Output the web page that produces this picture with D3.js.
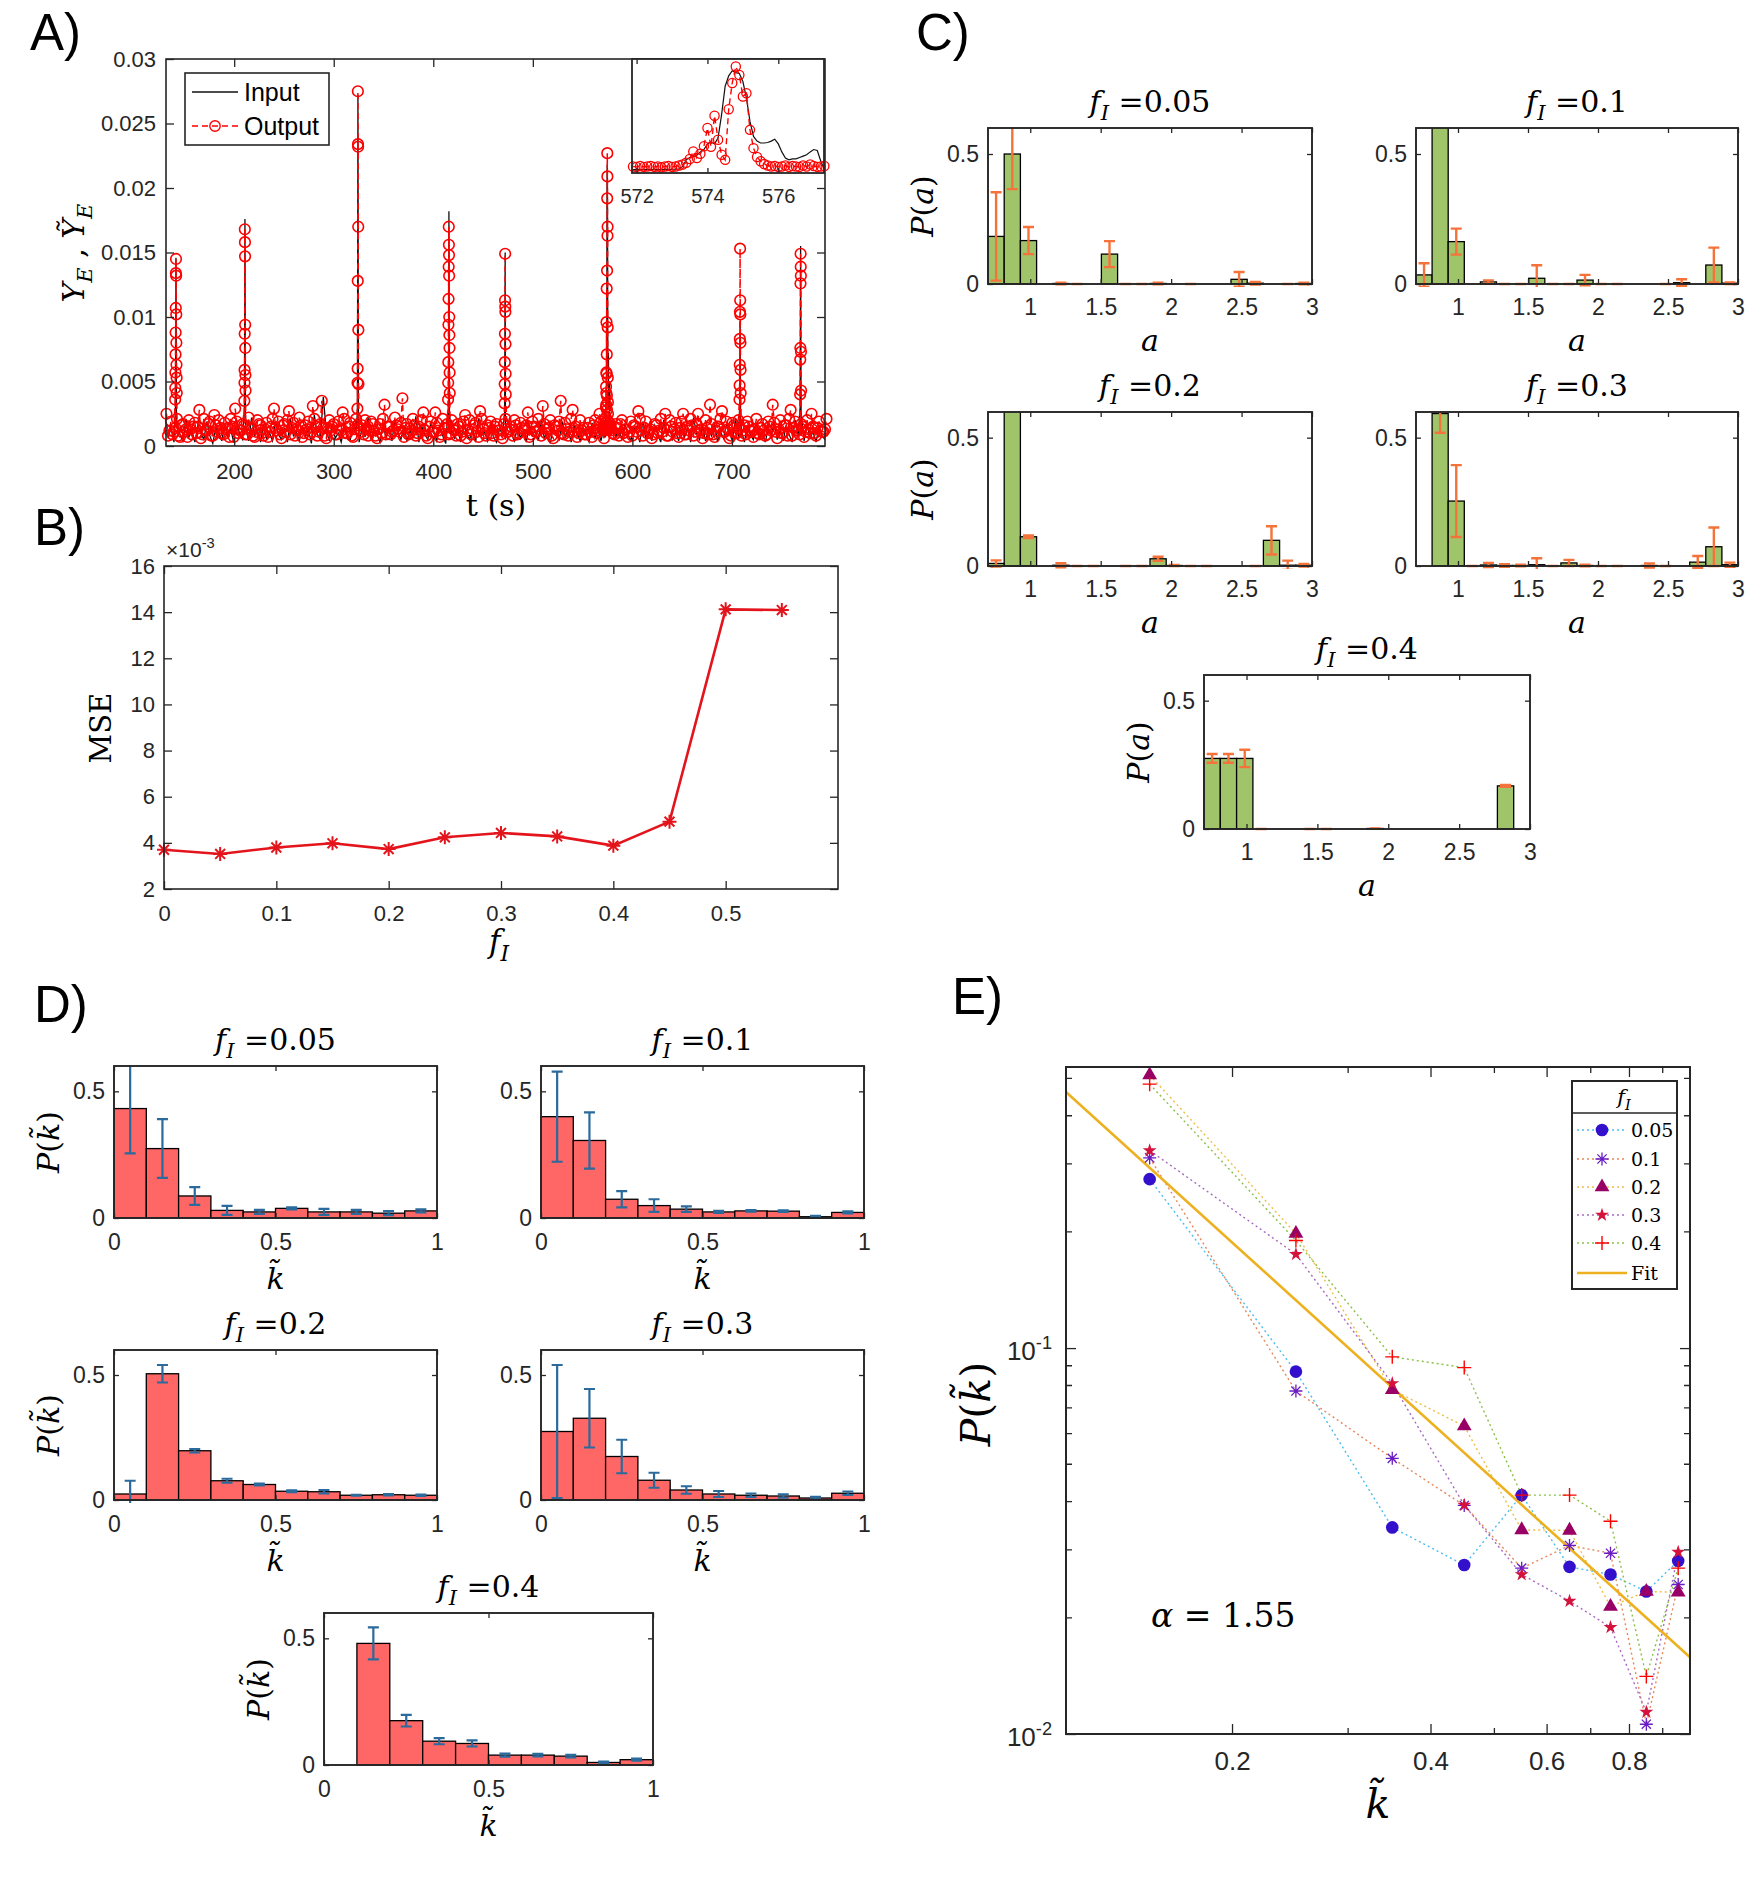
<!DOCTYPE html>
<html><head><meta charset="utf-8">
<script src="https://cdn.jsdelivr.net/npm/d3@7"></script>
<style>html,body{margin:0;padding:0;background:#fff;} svg{display:block;} text{white-space:pre;}</style>
</head><body>
<svg id="fig" width="1764" height="1882" xmlns="http://www.w3.org/2000/svg"></svg>
<script>
// ================= DATA =================
// ---- Panel A: time series (baseline samples in units of 1e-4) ----
const tStart = 132, tStep = 3;
const outBase = [25,12,9,14,8,16,11,7,13,15,10,28,9,12,17,8,24,11,14,9,
13,7,15,29,10,12,16,9,14,8,11,17,10,13,7,15,29,12,9,16,
11,27,14,8,12,16,10,13,9,31,15,11,35,8,14,12,17,9,13,26,
10,15,8,13,16,11,9,14,12,17,8,13,10,32,15,9,12,16,11,37,
14,9,12,16,10,13,26,8,15,11,26,12,9,14,17,10,13,8,15,11,
24,12,9,16,11,27,13,8,14,10,15,12,9,17,11,13,8,16,10,14,
12,26,9,15,11,13,31,10,14,8,16,12,35,9,13,11,28,15,10,12,
9,14,11,16,10,25,13,8,15,12,9,14,17,10,13,11,8,15,27,12,
14,10,13,9,16,12,11,25,8,15,13,10,14,25,9,12,16,11,25,13,
10,14,32,9,12,15,27,11,13,8,16,10,14,12,9,15,11,13,10,14,
12,9,15,32,11,13,10,16,8,28,14,12,9,15,11,13,25,10,14,12,
11,21];
// second set of output samples, half a step later
const outBase2 = [8,19,11,21,7,17,13,20,9,18,15,6,21,12,19,8,16,20,10,18,
14,21,7,19,12,17,9,22,13,7,20,16,8,18,11,21,14,19,6,17,
20,9,18,13,22,7,16,19,11,21,8,17,14,6,20,15,9,19,12,21,
10,18,7,21,13,16,20,8,19,12,6,17,21,9,15,11,22,13,18,7,
17,10,21,8,15,20,12,6,19,11,18,7,21,14,9,20,12,17,8,19,
6,20,13,18,7,21,10,16,19,8,17,12,6,21,11,15,20,9,18,13,
16,7,19,11,21,8,17,13,20,6,15,19,10,18,8,21,12,7,20,14,
9,18,7,20,12,19,6,15,21,10,17,8,20,13,7,19,16,11,21,8,
19,12,6,17,10,21,14,8,20,11,18,7,19,9,15,21,8,17,12,6,
20,9,17,7,15,21,11,19,6,18,10,20,8,16,19,12,7,21,9,17,
8,19,12,18,6,20,10,16,21,8,19,12,17,7,20,10,15,8,19,11,13];
const inBase = [6,14,3,18,9,4,21,7,12,3,16,10,5,19,8,2,14,11,4,17,
7,13,3,20,9,5,15,4,22,8,12,3,17,6,10,4,19,9,5,14,
3,21,8,11,4,16,7,13,2,24,9,5,38,12,4,17,6,10,3,15,
8,4,19,11,3,14,7,22,5,12,9,3,18,6,13,4,20,10,5,16,
4,12,7,23,3,15,9,5,18,11,4,14,8,2,19,10,6,13,3,17,
9,5,14,3,21,8,11,4,16,7,3,13,10,5,18,9,4,15,6,12,
3,17,8,12,4,20,6,11,2,15,9,5,19,7,13,3,16,10,4,14,
8,3,18,6,12,4,15,10,3,21,7,13,5,17,9,4,14,11,3,19,
6,12,4,16,9,3,20,8,13,5,11,4,17,7,14,3,22,9,5,15,
4,13,8,18,3,11,6,16,10,4,21,7,12,3,15,9,5,18,6,11,
3,14,7,19,5,12,4,16,9,3,20,8,13,4,17,6,11,3,15,8,5];
const spikeTimes = [141.5, 210.8, 324.3, 415.7, 472.2, 708.2, 769.0];
const spikeOut = [
 [0.0036,0.0045,0.0057,0.0071,0.0088,0.0107,0.0134,0.0145,0.0132,0.0102,0.0080,0.0063,0.0053,0.0041],
 [0.0035,0.0049,0.0059,0.0087,0.0168,0.0158,0.0147,0.0094,0.0076,0.0055,0.0043],
 [0.0029,0.0049,0.0060,0.0128,0.0275,0.0234,0.0232,0.0170,0.0090,0.0048],
 [0.0036,0.0049,0.0065,0.0094,0.0114,0.0139,0.0170,0.0156,0.0148,0.0132,0.0100,0.0086,0.0076,0.0057,0.0041],
 [0.0033,0.0048,0.0065,0.0087,0.0113,0.0149,0.0108,0.0104,0.0079,0.0056,0.0040],
 [0.0036,0.0047,0.0063,0.0083,0.0104,0.0153,0.0113,0.0102,0.0080,0.0059,0.0041],
 [0.0040,0.0067,0.0076,0.0126,0.0149,0.0139,0.0132,0.0073,0.0043]];
const spikeIn = [
 [0.0028,0.0146,0.0024],[0.0030,0.0176,0.0026],[0.0027,0.0272,0.0022],
 [0.0031,0.0182,0.0025],[0.0026,0.0150,0.0023],[0.0029,0.0097,0.0024],[0.0030,0.0155,0.0026]];
// inset window (every 0.1 s from 571.9 s)
const insetT0 = 571.9, insetDt = 0.1;
const insetOut = [0.0014,0.0013,0.0015,0.0013,0.0014,0.0015,0.0013,0.0014,0.0012,0.0014,0.0015,0.0013,0.0014,0.0016,
 0.0018,0.0022,0.0030,0.0046,0.0032,0.0041,0.0057,0.0096,0.0056,0.0122,0.0071,0.0039,0.0028,0.0136,0.0192,0.0227,0.0209,0.0163,0.0170,0.0092,0.0053,0.0034,0.0025,
 0.0019,0.0016,0.0014,0.0015,0.0013,0.0014,0.0016,0.0013,0.0015,0.0014,0.0013,0.0016,0.0014,0.0018,0.0015,0.0013,0.0014,0.0015];
const insetIn = [0.0007,0.0008,0.0007,0.0007,0.0008,0.0007,0.0008,0.0007,0.0007,0.0008,0.0007,0.0008,0.0008,0.0009,
 0.0014,0.0028,0.0033,0.0035,0.0038,0.0045,0.0050,0.0062,0.0066,0.0062,0.0075,0.0125,0.0185,0.0207,0.0218,0.0214,0.0212,0.0195,0.0160,0.0110,0.0078,0.0068,0.0064,
 0.0064,0.0065,0.0068,0.0072,0.0062,0.0045,0.0032,0.0028,0.0030,0.0030,0.0033,0.0036,0.0039,0.0045,0.0050,0.0048,0.0025,0.0008];
const tTicks = [200,300,400,500,600,700];
const yTicksA = [0,0.005,0.01,0.015,0.02,0.025,0.03];
const insetTicks = [572,574,576];

// ---- Panel B ----
const fI = [0,0.05,0.1,0.15,0.2,0.25,0.3,0.35,0.4,0.45,0.5,0.55];
const mse = [3.70,3.52,3.80,3.98,3.73,4.24,4.43,4.28,3.88,4.92,14.12,14.09]; // x 1e-3
const bXTicks = [0,0.1,0.2,0.3,0.4,0.5];
const bYTicks = [2,4,6,8,10,12,14,16];

// ---- Panel C: P(a), 20 bins of width 0.115 starting at 0.7 ----
const aStart = 0.7, aWidth = 0.115;
const C05v = [0.183,0.5,0.167,0,0.002,0,0,0.115,0,0,0.002,0,0,0,0,0.018,0.003,0,0,0.002];
const C05e = [0.17,0.135,0.052,null,0.003,0,null,0.05,0,0,0.003,null,0,null,null,0.028,0.005,null,0,0.003];
const C1v  = [0.035,0.66,0.163,0,0.008,0,0,0.022,0,0,0.015,0,0,0,0,0,0.005,0,0.073,0.003];
const C1e  = [0.045,0.05,0.05,null,0.006,0,0,0.05,0,0,0.02,0,0,null,null,0,0.013,null,0.067,0.003];
const C2v  = [0.01,0.72,0.114,0,0.003,0,0,0,0,0,0.028,0.002,0,0,0,0,0,0.1,0.003,0.003];
const C2e  = [0.012,0.05,0.005,null,0.008,0,0,null,0,0,0.008,0.002,0,0,null,null,0,0.055,0.018,0.005];
const C3v  = [0,0.594,0.253,0,0.004,0.002,0.002,0.005,0,0.012,0.002,0,0,0,0.002,0,0,0.015,0.075,0.005];
const C3e  = [null,0.075,0.14,0,0.008,0.005,0.003,0.025,0,0.012,0.003,0,0,null,0.008,0,null,0.024,0.075,0.008];
const C4v  = [0.275,0.275,0.275,0,0,0,0,0,0,0,0.002,0,0,0,0,0,0,0,0.168,0];
const C4e  = [0.017,0.017,0.034,0,null,null,0,0,null,null,0,null,null,null,null,null,null,null,0.004,null];
const cXTicks = [1,1.5,2,2.5,3];
const pYTicks = [0,0.5];

// ---- Panel D: P(k~), 10 bins of width 0.1 ----
const kStart = 0, kWidth = 0.1;
const D05v = [0.432,0.274,0.087,0.03,0.024,0.038,0.024,0.024,0.019,0.028];
const D05e = [0.177,0.116,0.035,0.018,0.008,0.004,0.012,0.008,0.008,0.006];
const D1v  = [0.40,0.306,0.074,0.049,0.035,0.024,0.028,0.027,0.005,0.022];
const D1e  = [0.178,0.111,0.032,0.025,0.011,0.004,0.003,0.003,0.003,0.004];
const D2v  = [0.024,0.505,0.197,0.077,0.062,0.035,0.033,0.019,0.021,0.019];
const D2e  = [0.053,0.035,0.007,0.008,0.004,0.004,0.007,0.002,0.003,0.003];
const D3v  = [0.274,0.327,0.174,0.079,0.04,0.024,0.019,0.016,0.008,0.027];
const D3e  = [0.266,0.117,0.067,0.03,0.015,0.012,0.007,0.007,0.005,0.007];
const D4v  = [0,0.48,0.175,0.094,0.085,0.039,0.039,0.035,0.01,0.021];
const D4e  = [null,0.063,0.023,0.012,0.012,0.006,0.005,0.005,0.003,0.004];
const dXTicks = [0,0.5,1];

// ---- Panel E: log-log ----
const kCenters = [0.15,0.25,0.35,0.45,0.55,0.65,0.75,0.85,0.95];
const E05 = [0.274,0.0869,0.0343,0.0274,0.0416,0.0271,0.0259,0.0234,0.0281];
const E1  = [0.311,0.0774,0.0518,0.0391,0.0269,0.0308,0.0294,0.0106,0.0244];
const E2  = [0.510,0.198,0.078,0.0628,0.0338,0.0337,0.0214,0.0234,0.0233];
const E3  = [0.325,0.175,0.081,0.0392,0.0259,0.0221,0.0189,0.0114,0.0296];
const E4  = [0.483,0.19,0.0949,0.089,0.0416,0.0416,0.0356,0.0141,0.0269];
const fitK = [0.112,0.99];
const fitP = [0.461,0.0158];
const eXMajor = [0.2,0.4,0.6,0.8], eXMinor = [0.3,0.5,0.7,0.9];
const eYMajor = [0.01,0.1], eYMinor = [0.02,0.03,0.04,0.05,0.06,0.07,0.08,0.09,0.2,0.3,0.4,0.5];

// ================= DRAWING =================
const SANS = "'Liberation Sans', Arial, Helvetica, sans-serif";
const SERIF = "'DejaVu Serif', 'Liberation Serif', serif";
const INK = "#262626";
const svg = d3.select("#fig");
const defs = svg.append("defs");
svg.append("rect").attr("width",1764).attr("height",1882).attr("fill","#fff");
let clipN = 0;
function makeClip(x0,y0,x1,y1){const id="clip"+(clipN++);defs.append("clipPath").attr("id",id).append("rect").attr("x",x0).attr("y",y0).attr("width",x1-x0).attr("height",y1-y0);return "url(#"+id+")";}

function axesBox(g,xs,ys,o){
  const [xl,xr]=xs.range(); const [yb,yt]=ys.range();
  const tl=o.tl??6, fs=o.fs??22, sw=o.sw??1.6;
  const st=sel=>{sel.select(".domain").remove();sel.selectAll(".tick line").attr("stroke",INK).attr("stroke-width",1.3);
    sel.selectAll("text").attr("fill",INK).style("font-family",SANS).style("font-size",fs+"px");return sel;};
  if(o.xt){
    st(g.append("g").attr("transform",`translate(0,${yb})`).call(d3.axisBottom(xs).tickValues(o.xt).tickFormat(o.noXLab?"":(o.xf||(d=>String(d)))).tickSize(-tl).tickSizeOuter(0).tickPadding(o.xpad??14)));
    st(g.append("g").attr("transform",`translate(0,${yt})`).call(d3.axisTop(xs).tickValues(o.xt).tickFormat("").tickSize(-tl).tickSizeOuter(0)));
  }
  if(o.yt){
    st(g.append("g").attr("transform",`translate(${xl},0)`).call(d3.axisLeft(ys).tickValues(o.yt).tickFormat(o.noYLab?"":(o.yf||(d=>String(d)))).tickSize(-tl).tickSizeOuter(0).tickPadding(o.ypad??9)));
    st(g.append("g").attr("transform",`translate(${xr},0)`).call(d3.axisRight(ys).tickValues(o.yt).tickFormat("").tickSize(-tl).tickSizeOuter(0)));
  }
  g.append("rect").attr("x",xl).attr("y",yt).attr("width",xr-xl).attr("height",yb-yt).attr("fill","none").attr("stroke",INK).attr("stroke-width",sw);
}

function mtext(g,x,y,parts,fs,o={}){
  const t=g.append("text").attr("x",x).attr("y",y).attr("text-anchor",o.anchor||"middle").attr("fill",o.fill||"#000")
    .style("font-family",o.font||SERIF).style("font-size",fs+"px");
  if(o.rot) t.attr("transform",`rotate(-90,${x},${y})`);
  let cur=0;
  parts.forEach(p=>{
    const s=typeof p==="string"?{t:p}:p;
    const off=s.sub?fs*0.28:(s.sup?-fs*0.42:0);
    const ts=t.append("tspan").attr("dy",off-cur).text(s.t);
    cur=off;
    if(s.i) ts.style("font-style","italic");
    if(s.sub||s.sup) ts.style("font-size",(fs*0.7)+"px");
  });
  return t;
}
const fiParts = v => [{t:"f",i:1},{t:"I",i:1,sub:1},{t:" ="+v}];
const KT = "k\u0303";

// panel letters
[["A)",30,50],["B)",34,545],["C)",916,50],["D)",34,1022],["E)",952,1014]].forEach(([s,x,y])=>{
  svg.append("text").attr("x",x).attr("y",y).text(s).style("font-family",SANS).style("font-size","51px").attr("fill","#000");
});

// ---------- Panel A ----------
(function(){
  const g=svg.append("g");
  const xs=d3.scaleLinear().domain([131.5,793.5]).range([166,825]);
  const ys=d3.scaleLinear().domain([0,0.03]).range([446,59]);
  const inWin=t=>t>=insetT0-0.2 && t<=insetT0+insetDt*(insetOut.length-1)+0.2;
  const outPts=[], inPts=[];
  outBase.forEach((v,i)=>{const t=tStart+tStep*i; if(!inWin(t)) outPts.push([t,v*1e-4]);});
  outBase2.forEach((v,i)=>{const t=tStart+1.5+tStep*i; if(!inWin(t)) outPts.push([t,v*1e-4]);});
  inBase.forEach((v,i)=>{const t=tStart+1.5+tStep*i; if(!inWin(t)) inPts.push([t,v*1e-4]);});
  spikeTimes.forEach((t0,k)=>{
    const vs=spikeOut[k]; vs.forEach((v,j)=>outPts.push([t0+(j-(vs.length-1)/2)*0.12,v]));
    const ws=spikeIn[k]; ws.forEach((v,j)=>inPts.push([t0+(j-1)*0.5,v]));
  });
  insetOut.forEach((v,i)=>outPts.push([insetT0+insetDt*i,v]));
  insetIn.forEach((v,i)=>inPts.push([insetT0+insetDt*i,v]));
  outPts.sort((a,b)=>a[0]-b[0]); inPts.sort((a,b)=>a[0]-b[0]);
  const line=d3.line().x(d=>xs(d[0])).y(d=>ys(d[1]));
  g.append("path").attr("d",line(inPts)).attr("fill","none").attr("stroke","#111").attr("stroke-width",1.3);
  g.append("path").attr("d",line(outPts)).attr("fill","none").attr("stroke","#ff0000").attr("stroke-width",1.5).attr("stroke-dasharray","6,4");
  g.selectAll("circle.o").data(outPts).join("circle").attr("cx",d=>xs(d[0])).attr("cy",d=>ys(d[1])).attr("r",5.3)
    .attr("fill","none").attr("stroke","#ff0000").attr("stroke-width",1.6);
  axesBox(g,xs,ys,{xt:tTicks,yt:yTicksA,tl:8,fs:22,xpad:17,ypad:10});
  // legend
  g.append("rect").attr("x",185).attr("y",73).attr("width",144).attr("height",72).attr("fill","#fff").attr("stroke",INK).attr("stroke-width",1.6);
  g.append("line").attr("x1",192).attr("x2",238).attr("y1",92).attr("y2",92).attr("stroke","#111").attr("stroke-width",1.3);
  g.append("line").attr("x1",192).attr("x2",238).attr("y1",126).attr("y2",126).attr("stroke","#ff0000").attr("stroke-width",1.5).attr("stroke-dasharray","6,4");
  g.append("circle").attr("cx",215).attr("cy",126).attr("r",5.2).attr("fill","none").attr("stroke","#ff0000").attr("stroke-width",1.4);
  g.append("text").attr("x",244).attr("y",101).text("Input").style("font-family",SANS).style("font-size","25px").attr("fill","#000");
  g.append("text").attr("x",244).attr("y",135).text("Output").style("font-family",SANS).style("font-size","25px").attr("fill","#000");
  // axis labels
  mtext(g,84,253,[{t:"Y",i:1},{t:"E",i:1,sub:1},{t:" , "},{t:"\u1EF8",i:1},{t:"E",i:1,sub:1}],30,{rot:1});
  mtext(g,496,516,["t (s)"],30);
  // inset
  const ig=svg.append("g");
  const ix=d3.scaleLinear().domain([571.87,577.29]).range([632,824]);
  const iy=d3.scaleLinear().domain([0,0.0243]).range([173,59]);
  ig.append("rect").attr("x",632).attr("y",59).attr("width",192).attr("height",114).attr("fill","#fff");
  const iOut=insetOut.map((v,i)=>[insetT0+insetDt*i,v]), iIn=insetIn.map((v,i)=>[insetT0+insetDt*i,v]);
  const il=d3.line().x(d=>ix(d[0])).y(d=>iy(d[1]));
  ig.append("path").attr("d",il(iIn)).attr("fill","none").attr("stroke","#111").attr("stroke-width",1.2);
  ig.append("path").attr("d",il(iOut)).attr("fill","none").attr("stroke","#ff0000").attr("stroke-width",1.4).attr("stroke-dasharray","6,4");
  ig.selectAll("circle").data(iOut).join("circle").attr("cx",d=>ix(d[0])).attr("cy",d=>iy(d[1])).attr("r",4.6)
    .attr("fill","none").attr("stroke","#ff0000").attr("stroke-width",1.3);
  axesBox(ig,ix,iy,{xt:insetTicks,tl:5,fs:20,xpad:16,sw:1.8});
})();

// ---------- Panel B ----------
(function(){
  const g=svg.append("g");
  const xs=d3.scaleLinear().domain([0,0.6]).range([164,838]);
  const ys=d3.scaleLinear().domain([2,16]).range([889,566]);
  const pts=fI.map((f,i)=>[xs(f),ys(mse[i])]);
  g.append("path").attr("d",d3.line()(pts)).attr("fill","none").attr("stroke","#e3141c").attr("stroke-width",2.6);
  const r=7, a=r*0.707;
  pts.forEach(p=>g.append("path").attr("transform",`translate(${p[0]},${p[1]})`)
    .attr("d",`M${-r},0L${r},0M0,${-r}L0,${r}M${-a},${-a}L${a},${a}M${-a},${a}L${a},${-a}`).attr("stroke","#e3141c").attr("stroke-width",2));
  axesBox(g,xs,ys,{xt:bXTicks,yt:bYTicks,tl:8,fs:22,xpad:16,ypad:9});
  mtext(g,166,557,["\u00D710",{t:"-3",sup:1}],21,{anchor:"start",font:SANS,fill:INK});
  mtext(g,111,728,["MSE"],29,{rot:1});
  mtext(g,499,952,[{t:"f",i:1},{t:"I",i:1,sub:1}],31);
})();

// ---------- histogram panels (C, D) ----------
function histPanel(p){
  const [x0,y0,x1,y1]=p.box;
  const g=svg.append("g");
  const xs=d3.scaleLinear().domain(p.xd).range([x0,x1]);
  const ys=d3.scaleLinear().domain([0,0.6]).range([y1,y0]);
  const pg=g.append("g").attr("clip-path",makeClip(x0-8,y0,x1+8,y1+3));
  p.vals.forEach((v,i)=>{
    const a=p.start+i*p.w,b=a+p.w;
    pg.append("rect").attr("x",xs(a)).attr("y",ys(v)).attr("width",xs(b)-xs(a)).attr("height",ys(0)-ys(v))
      .attr("fill",p.fill).attr("stroke","#000").attr("stroke-width",1.3);
  });
  const eg=g.append("g").attr("clip-path",makeClip(x0-8,y0,x1+8,y1+3));
  p.errs.forEach((e,i)=>{
    if(e==null) return;
    const v=p.vals[i], c=xs(p.start+(i+0.5)*p.w), ya=ys(v+e), yb=ys(v-e), cw=5.5;
    eg.append("path").attr("d",`M${c},${ya}L${c},${yb}M${c-cw},${ya}L${c+cw},${ya}M${c-cw},${yb}L${c+cw},${yb}`)
      .attr("stroke",p.ecol).attr("stroke-width",p.ew).attr("fill","none");
  });
  axesBox(g,xs,ys,{xt:p.xt,yt:pYTicks,tl:5,fs:23,xpad:p.xpad,ypad:9,sw:1.9});
  mtext(g,(x0+x1)/2,y0-16,fiParts(p.fi),30);
  mtext(g,(x0+x1)/2,y1+(p.xlabOff),p.xlab,30);
  if(p.ylab) mtext(g,x0-66+11,(y0+y1)/2,p.ylabParts,30,{rot:1});
}
const cCommon={xd:[0.7,3],start:aStart,w:aWidth,fill:"#9fc46a",ecol:"#f5733a",ew:2.4,xt:cXTicks,xpad:15,
  xlab:[{t:"a",i:1}],xlabOff:67,ylabParts:[{t:"P",i:1},"(",{t:"a",i:1},")"]};
[{fi:"0.05",vals:C05v,errs:C05e,box:[988,128,1312,284],ylab:1},
 {fi:"0.1",vals:C1v,errs:C1e,box:[1416,128,1738,284],ylab:0},
 {fi:"0.2",vals:C2v,errs:C2e,box:[988,412,1312,566],ylab:1},
 {fi:"0.3",vals:C3v,errs:C3e,box:[1416,412,1738,566],ylab:0},
 {fi:"0.4",vals:C4v,errs:C4e,box:[1204,675,1530,829],ylab:1}].forEach(p=>histPanel(Object.assign({},cCommon,p)));

const dCommon={xd:[0,1],start:kStart,w:kWidth,fill:"#ff6666",ecol:"#2a6a9c",ew:2.2,xt:dXTicks,xpad:16,
  xlab:[{t:KT,i:1}],xlabOff:71,ylabParts:[{t:"P",i:1},"(",{t:KT,i:1},")"]};
[{fi:"0.05",vals:D05v,errs:D05e,box:[114,1066,437,1218],ylab:1},
 {fi:"0.1",vals:D1v,errs:D1e,box:[541,1066,864,1218],ylab:0},
 {fi:"0.2",vals:D2v,errs:D2e,box:[114,1350,437,1500],ylab:1},
 {fi:"0.3",vals:D3v,errs:D3e,box:[541,1350,864,1500],ylab:0},
 {fi:"0.4",vals:D4v,errs:D4e,box:[324,1613,653,1765],ylab:1}].forEach(p=>histPanel(Object.assign({},dCommon,p)));

// ---------- Panel E ----------
(function(){
  const g=svg.append("g");
  const xs=d3.scaleLog().domain([0.112,0.99]).range([1066,1690]);
  const ys=d3.scaleLog().domain([0.01,0.535]).range([1734,1067]);
  const series=[
    {lab:"0.05",vals:E05,lc:"#4dbeee",mk:"circle",col:"#3311cc"},
    {lab:"0.1",vals:E1,lc:"#e8875a",mk:"asterisk",col:"#6a1bc4"},
    {lab:"0.2",vals:E2,lc:"#efbf45",mk:"triangle",col:"#990066"},
    {lab:"0.3",vals:E3,lc:"#a86bc0",mk:"star",col:"#d4123c"},
    {lab:"0.4",vals:E4,lc:"#8cbf4a",mk:"plus",col:"#ff0000"}];
  function marker(gg,mk,x,y,col){
    if(mk==="circle") gg.append("circle").attr("cx",x).attr("cy",y).attr("r",6.3).attr("fill",col);
    else if(mk==="triangle") gg.append("path").attr("transform",`translate(${x},${y})`).attr("d",d3.symbol(d3.symbolTriangle,95)()).attr("fill",col);
    else if(mk==="star") gg.append("path").attr("transform",`translate(${x},${y})`).attr("d",d3.symbol(d3.symbolStar,60)()).attr("fill",col);
    else if(mk==="plus"){const r=7;gg.append("path").attr("d",`M${x-r},${y}L${x+r},${y}M${x},${y-r}L${x},${y+r}`).attr("stroke",col).attr("stroke-width",1.4);}
    else {const r=6.5,a=r*0.707;gg.append("path").attr("d",`M${x-r},${y}L${x+r},${y}M${x},${y-r}L${x},${y+r}M${x-a},${y-a}L${x+a},${y+a}M${x-a},${y+a}L${x+a},${y-a}`).attr("stroke",col).attr("stroke-width",1.3);}
  }
  const line=d3.line().x(d=>xs(d[0])).y(d=>ys(d[1]));
  series.forEach(s=>g.append("path").attr("d",line(kCenters.map((k,i)=>[k,s.vals[i]]))).attr("fill","none")
     .attr("stroke",s.lc).attr("stroke-width",1.4).attr("stroke-dasharray","2,3"));
  g.append("path").attr("d",line(fitK.map((k,i)=>[k,fitP[i]]))).attr("fill","none").attr("stroke","#edb120").attr("stroke-width",2.6);
  series.forEach(s=>kCenters.forEach((k,i)=>marker(g,s.mk,xs(k),ys(s.vals[i]),s.col)));
  axesBox(g,xs,ys,{xt:eXMajor,yt:eYMajor,noYLab:1,tl:10,fs:26,xpad:18,sw:2});
  eXMinor.forEach(v=>{const x=xs(v);g.append("path").attr("d",`M${x},1734L${x},1728M${x},1067L${x},1073`).attr("stroke",INK).attr("stroke-width",1.3);});
  eYMinor.forEach(v=>{const y=ys(v);g.append("path").attr("d",`M1066,${y}L1072,${y}M1690,${y}L1684,${y}`).attr("stroke",INK).attr("stroke-width",1.3);});
  [[0.01,"-2"],[0.1,"-1"]].forEach(([v,e])=>mtext(g,1052,ys(v)+12,["10",{t:e,sup:1}],26,{anchor:"end",font:SANS,fill:INK}));
  mtext(g,990,1404,[{t:"P",i:1},"(",{t:KT,i:1},")"],41,{rot:1});
  mtext(g,1378,1818,[{t:KT,i:1}],41);
  mtext(g,1151,1627,[{t:"\u03B1",i:1}," = 1.55"],33,{anchor:"start"});
  // legend
  const lx0=1572,ly0=1081,lx1=1677,ly1=1289;
  g.append("rect").attr("x",lx0).attr("y",ly0).attr("width",lx1-lx0).attr("height",ly1-ly0).attr("fill","#fff").attr("stroke",INK).attr("stroke-width",2);
  g.append("line").attr("x1",lx0).attr("x2",lx1).attr("y1",1113).attr("y2",1113).attr("stroke",INK).attr("stroke-width",1.6);
  mtext(g,1624,1104,[{t:"f",i:1},{t:"I",i:1,sub:1}],21);
  const rowsY=[1130,1159,1187,1215,1243,1273];
  series.forEach((s,i)=>{
    const y=rowsY[i];
    g.append("line").attr("x1",1577).attr("x2",1627).attr("y1",y).attr("y2",y).attr("stroke",s.lc).attr("stroke-width",1.4).attr("stroke-dasharray","2,3");
    marker(g,s.mk,1602,y,s.col);
    mtext(g,1631,y+7,[s.lab],19,{anchor:"start"});
  });
  g.append("line").attr("x1",1577).attr("x2",1627).attr("y1",rowsY[5]).attr("y2",rowsY[5]).attr("stroke","#edb120").attr("stroke-width",2.6);
  mtext(g,1631,rowsY[5]+7,["Fit"],19,{anchor:"start"});
})();
</script></body></html>
